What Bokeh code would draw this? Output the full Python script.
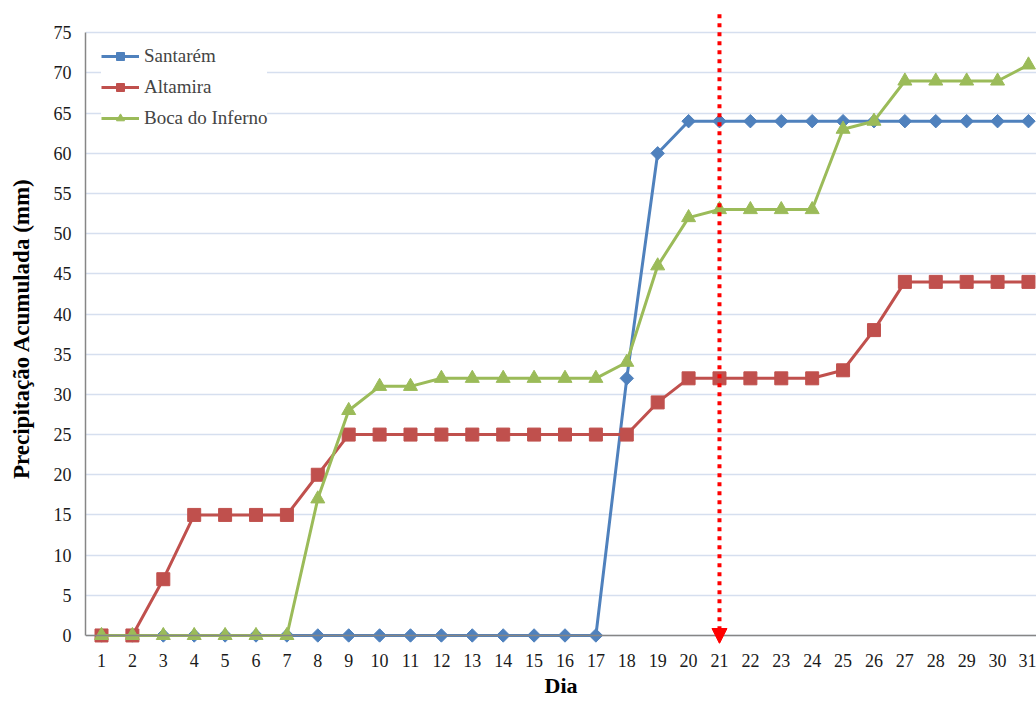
import numpy as np
from bokeh.plotting import figure
from bokeh.models import (FixedTicker, Legend, LegendItem, Span, Arrow, NormalHead)
from bokeh.embed import file_html
from bokeh.resources import INLINE

# ---- data ----
days = [1, 2, 3, 4, 5, 6, 7, 8, 9, 10, 11, 12, 13, 14, 15, 16, 17, 18, 19, 20,
        21, 22, 23, 24, 25, 26, 27, 28, 29, 30, 31]
santarem = [0, 0, 0, 0, 0, 0, 0, 0, 0, 0, 0, 0, 0, 0, 0, 0, 0, 32, 60, 64,
            64, 64, 64, 64, 64, 64, 64, 64, 64, 64, 64]
altamira = [0, 0, 7, 15, 15, 15, 15, 20, 25, 25, 25, 25, 25, 25, 25, 25, 25, 25, 29, 32,
            32, 32, 32, 32, 33, 38, 44, 44, 44, 44, 44]
boca = [0, 0, 0, 0, 0, 0, 0, 17, 28, 31, 31, 32, 32, 32, 32, 32, 32, 34, 46, 52,
        53, 53, 53, 53, 63, 64, 69, 69, 69, 69, 71]
y_ticks = [0, 5, 10, 15, 20, 25, 30, 35, 40, 45, 50, 55, 60, 65, 70, 75]
series_names = ["Santarém", "Altamira", "Boca do Inferno"]
marker_day = 21

# ---- styles ----
FONT = "Liberation Serif"
C_SAN = "#4F81BD"
C_ALT = "#C0504D"
C_BOC = "#9BBB59"
AXIS_GRAY = "#868686"
GRID = "#D6DFEF"

p = figure(width=1036, height=702, x_range=(0.482, 31.26), y_range=(-1, 77.4),
           output_backend="svg", toolbar_location=None,
           min_border_left=85, min_border_right=0, min_border_top=13, min_border_bottom=59)
p.outline_line_color = None
p.background_fill_color = "white"

# grid
p.xgrid.grid_line_color = None
p.ygrid.grid_line_color = GRID
p.ygrid.grid_line_width = 1.5

# x axis
p.xaxis.ticker = FixedTicker(ticks=days)
p.xaxis.axis_line_color = None
p.xaxis.major_tick_line_color = None
p.xaxis.minor_tick_line_color = None
p.xaxis.major_tick_out = 0
p.xaxis.major_tick_in = 0
p.xaxis.major_label_standoff = 10
p.xaxis.major_label_text_font = FONT
p.xaxis.major_label_text_font_size = "18px"
p.xaxis.major_label_text_color = "#1a1a1a"
p.xaxis.axis_label = "Dia"
p.xaxis.axis_label_text_font = FONT
p.xaxis.axis_label_text_font_size = "22px"
p.xaxis.axis_label_text_font_style = "bold"
p.xaxis.axis_label_text_color = "black"
p.xaxis.axis_label_standoff = 3

# y axis
p.yaxis.ticker = FixedTicker(ticks=y_ticks)
p.yaxis.bounds = (0, 75)
p.yaxis.axis_line_color = AXIS_GRAY
p.yaxis.axis_line_width = 1.5
p.yaxis.major_tick_line_color = None
p.yaxis.minor_tick_line_color = None
p.yaxis.major_tick_out = 0
p.yaxis.major_tick_in = 0
p.yaxis.major_label_standoff = 14
p.yaxis.major_label_text_font = FONT
p.yaxis.major_label_text_font_size = "18px"
p.yaxis.major_label_text_color = "#1a1a1a"
p.yaxis.axis_label = "Precipitação Acumulada (mm)"
p.yaxis.axis_label_text_font = FONT
p.yaxis.axis_label_text_font_size = "23px"
p.yaxis.axis_label_text_font_style = "bold"
p.yaxis.axis_label_text_color = "black"
p.yaxis.axis_label_standoff = 17

# horizontal axis line at zero
p.add_layout(Span(location=0, dimension="width", line_color=AXIS_GRAY, line_width=1.5))

# series
l1 = p.line(days, santarem, line_color=C_SAN, line_width=3)
s1 = p.scatter(days, santarem, marker="square", angle=np.pi / 4, size=9.5,
               fill_color=C_SAN, line_color=C_SAN)
l2 = p.line(days, altamira, line_color=C_ALT, line_width=3)
s2 = p.scatter(days, altamira, marker="square", size=13,
               fill_color=C_ALT, line_color=C_ALT)
l3 = p.line(days, boca, line_color=C_BOC, line_width=3)
s3 = p.scatter(days, boca, marker="triangle", size=14,
               fill_color=C_BOC, line_color=C_BOC)

# dotted red arrow
p.add_layout(Arrow(x_start=marker_day, y_start=77.3, x_end=marker_day, y_end=-1.0,
                   line_color="#FF0000", line_width=4, line_dash="4 5",
                   end=NormalHead(size=15, fill_color="#FF0000", line_color="#FF0000")))

# legend
legend = Legend(items=[LegendItem(label=series_names[0], renderers=[l1, s1]),
                       LegendItem(label=series_names[1], renderers=[l2, s2]),
                       LegendItem(label=series_names[2], renderers=[l3, s3])],
                location=(16, 514), padding=11, spacing=9,
                glyph_width=38, glyph_height=20, label_height=20, label_standoff=5,
                label_text_font=FONT, label_text_font_size="19px",
                border_line_color=None, background_fill_color="white",
                background_fill_alpha=1.0)
p.add_layout(legend)

open("out.html", "w").write(file_html(p, INLINE))
